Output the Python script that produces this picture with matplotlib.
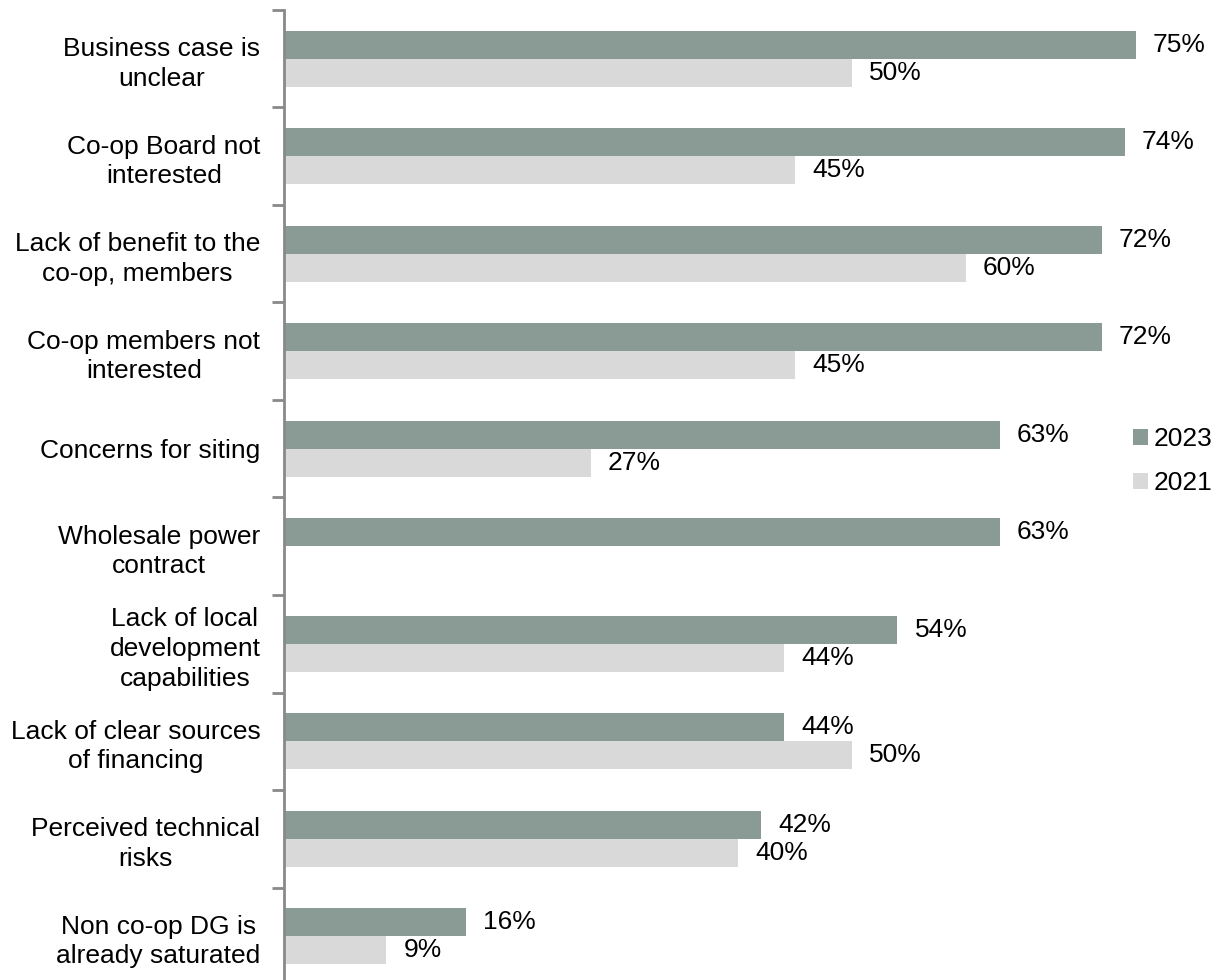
import numpy as np
import matplotlib
matplotlib.use("Agg")
import matplotlib.pyplot as plt

plt.rcParams['font.family'] = ['Liberation Sans', 'DejaVu Sans']

# Reasons for not pursuing DG, share of respondents
categories = [
    "Business case is\nunclear",
    "Co-op Board not\ninterested",
    "Lack of benefit to the\nco-op, members",
    "Co-op members not\ninterested",
    "Concerns for siting",
    "Wholesale power\ncontract",
    "Lack of local\ndevelopment\ncapabilities",
    "Lack of clear sources\nof financing",
    "Perceived technical\nrisks",
    "Non co-op DG is\nalready saturated",
]
vals_2023 = [75, 74, 72, 72, 63, 63, 54, 44, 42, 16]
vals_2021 = [50, 45, 60, 45, 27, None, 44, 50, 40, 9]

c2023 = "#899B94"
c2021 = "#D9D9D9"
fs = 19

fig = plt.figure(figsize=(12.24, 9.8), dpi=100)
ax = fig.add_axes([284 / 1224, 1 - 985 / 980, 1 - 284 / 1224, 975 / 980])

y = np.arange(len(categories))
h = 0.287

ax.barh(y - h / 2, vals_2023, height=h, color=c2023, label="2023")
v21 = np.array([np.nan if v is None else v for v in vals_2021], dtype=float)
ax.barh(y + h / 2, np.nan_to_num(v21), height=h, color=c2021, label="2021")

for i, v in enumerate(vals_2023):
    ax.text(v + 1.5, i - h / 2, f"{v}%", va='center', ha='left', fontsize=fs)
for i, v in enumerate(vals_2021):
    if v is not None:
        ax.text(v + 1.5, i + h / 2, f"{v}%", va='center', ha='left', fontsize=fs)

ax.set_xlim(0, 940 / 11.36)
ax.set_ylim(len(categories) - 0.5, -0.5)

# boundary ticks on the axis, labels centered on each group
ax.set_yticks(np.arange(len(categories) + 1) - 0.5)
ax.set_yticklabels([])
ax.tick_params(axis='y', which='major', length=9, width=2, color="#898989")
ax.set_yticks(y, minor=True)
ax.set_yticklabels(categories, minor=True, fontsize=fs, multialignment='center',
                   linespacing=1.3)
ax.tick_params(axis='y', which='minor', length=0, pad=17)

ax.set_xticks([])
for s in ['top', 'right', 'bottom']:
    ax.spines[s].set_visible(False)
ax.spines['left'].set_color("#898989")
ax.spines['left'].set_linewidth(2)

leg = fig.legend(loc='center left', bbox_to_anchor=(1133 / 1224, 1 - 461 / 980),
                 frameon=False, fontsize=fs, handlelength=0.55, handleheight=0.55,
                 handletextpad=0.25, labelspacing=0.75, borderaxespad=0, borderpad=0)

fig.savefig("out.png", dpi=100)
